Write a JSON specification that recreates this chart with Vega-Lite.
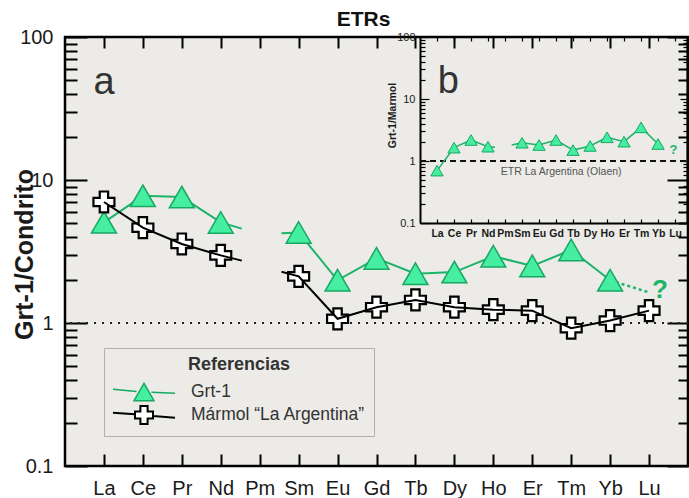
{
"$schema": "https://vega.github.io/schema/vega-lite/v6.json",
"width": 623, "height": 429,
"autosize": {"type": "none"},
"padding": {"left": 65, "top": 37, "right": 1, "bottom": 32},
"background": "#ffffff",
"title": {"text": "ETRs", "font": "Liberation Sans", "fontSize": 21, "fontWeight": "bold", "color": "#111111", "anchor": "middle", "dx": -13, "offset": -3},
"config": {
  "view": {"fill": "#ECEBE7", "stroke": "#000000", "strokeWidth": 2.5},
  "axis": {"grid": false, "domain": false, "tickColor": "#000000", "labelFont": "Liberation Sans", "labelColor": "#1a1a1a", "labelOverlap": false, "labelFlush": false, "titleFont": "Liberation Sans", "titleColor": "#1a1a1a"},
  "text": {"font": "Liberation Sans"}
},
"datasets": {
  "main": [
    {"s": "Grt-1", "i": 1, "v": 5.06, "seg": "g1", "k": "p"},
    {"s": "Grt-1", "i": 2, "v": 7.75, "seg": "g1", "k": "p"},
    {"s": "Grt-1", "i": 3, "v": 7.6, "seg": "g1", "k": "p"},
    {"s": "Grt-1", "i": 4, "v": 5.05, "seg": "g1", "k": "p"},
    {"s": "Grt-1", "i": 4.54, "v": 4.57, "seg": "g1", "k": "e"},
    {"s": "Grt-1", "i": 5.56, "v": 4.24, "seg": "g2", "k": "e"},
    {"s": "Grt-1", "i": 6, "v": 4.3, "seg": "g2", "k": "p"},
    {"s": "Grt-1", "i": 7, "v": 1.99, "seg": "g2", "k": "p"},
    {"s": "Grt-1", "i": 8, "v": 2.83, "seg": "g2", "k": "p"},
    {"s": "Grt-1", "i": 9, "v": 2.21, "seg": "g2", "k": "p"},
    {"s": "Grt-1", "i": 10, "v": 2.27, "seg": "g2", "k": "p"},
    {"s": "Grt-1", "i": 11, "v": 2.93, "seg": "g2", "k": "p"},
    {"s": "Grt-1", "i": 12, "v": 2.51, "seg": "g2", "k": "p"},
    {"s": "Grt-1", "i": 13, "v": 3.24, "seg": "g2", "k": "p"},
    {"s": "Grt-1", "i": 14, "v": 1.99, "seg": "g2", "k": "p"},
    {"s": "Grt-1", "i": 14, "v": 1.99, "seg": "q", "k": "q"},
    {"s": "Grt-1", "i": 15.02, "v": 1.63, "seg": "q", "k": "q"},
    {"s": "Mármol “La Argentina”", "i": 1, "v": 7.02, "seg": "m1", "k": "p"},
    {"s": "Mármol “La Argentina”", "i": 2, "v": 4.64, "seg": "m1", "k": "p"},
    {"s": "Mármol “La Argentina”", "i": 3, "v": 3.57, "seg": "m1", "k": "p"},
    {"s": "Mármol “La Argentina”", "i": 4, "v": 2.97, "seg": "m1", "k": "p"},
    {"s": "Mármol “La Argentina”", "i": 4.54, "v": 2.73, "seg": "m1", "k": "e"},
    {"s": "Mármol “La Argentina”", "i": 5.56, "v": 2.28, "seg": "m2", "k": "e"},
    {"s": "Mármol “La Argentina”", "i": 6, "v": 2.12, "seg": "m2", "k": "p"},
    {"s": "Mármol “La Argentina”", "i": 7, "v": 1.07, "seg": "m2", "k": "p"},
    {"s": "Mármol “La Argentina”", "i": 8, "v": 1.29, "seg": "m2", "k": "p"},
    {"s": "Mármol “La Argentina”", "i": 9, "v": 1.45, "seg": "m2", "k": "p"},
    {"s": "Mármol “La Argentina”", "i": 10, "v": 1.29, "seg": "m2", "k": "p"},
    {"s": "Mármol “La Argentina”", "i": 11, "v": 1.24, "seg": "m2", "k": "p"},
    {"s": "Mármol “La Argentina”", "i": 12, "v": 1.22, "seg": "m2", "k": "p"},
    {"s": "Mármol “La Argentina”", "i": 13, "v": 0.92, "seg": "m2", "k": "p"},
    {"s": "Mármol “La Argentina”", "i": 14, "v": 1.04, "seg": "m2", "k": "p"},
    {"s": "Mármol “La Argentina”", "i": 15, "v": 1.22, "seg": "m2", "k": "p"}
  ],
  "inset": [
    {"i": 1, "v": 0.7, "seg": "a", "k": "p"},
    {"i": 2, "v": 1.64, "seg": "a", "k": "p"},
    {"i": 3, "v": 2.18, "seg": "a", "k": "p"},
    {"i": 4, "v": 1.7, "seg": "a", "k": "p"},
    {"i": 4.41, "v": 1.66, "seg": "a", "k": "e"},
    {"i": 5.39, "v": 1.81, "seg": "b", "k": "e"},
    {"i": 6, "v": 1.97, "seg": "b", "k": "p"},
    {"i": 7, "v": 1.81, "seg": "b", "k": "p"},
    {"i": 8, "v": 2.18, "seg": "b", "k": "p"},
    {"i": 9, "v": 1.5, "seg": "b", "k": "p"},
    {"i": 10, "v": 1.75, "seg": "b", "k": "p"},
    {"i": 11, "v": 2.41, "seg": "b", "k": "p"},
    {"i": 12, "v": 2.05, "seg": "b", "k": "p"},
    {"i": 13, "v": 3.49, "seg": "b", "k": "p"},
    {"i": 14, "v": 1.88, "seg": "b", "k": "p"}
  ]
},
"resolve": {"scale": {"x": "independent", "y": "independent"}, "axis": {"x": "independent", "y": "independent"}},
"layer": [
  {
    "data": {"values": [{"v": 1}]},
    "mark": {"type": "rule", "color": "#222222", "strokeWidth": 2, "strokeDash": [2, 6]},
    "encoding": {
      "y": {"field": "v", "type": "quantitative", "scale": {"type": "log", "domain": [0.1, 100], "nice": false},
            "axis": {"orient": "right", "values": [0.2,0.3,0.4,0.5,0.6,0.7,0.8,0.9,2,3,4,5,6,7,8,9,20,30,40,50,60,70,80,90], "labels": false, "tickSize": -10, "tickWidth": 2, "title": null}}
    }
  },
  {
    "data": {"name": "main"},
    "transform": [{"filter": "datum.s === 'Grt-1' && datum.k !== 'q'"}],
    "mark": {"type": "line", "color": "#1DB36B", "strokeWidth": 2},
    "encoding": {
      "x": {"field": "i", "type": "quantitative", "scale": {"domain": [0, 16], "nice": false, "zero": false},
            "axis": {"orient": "bottom", "values": [1,2,3,4,5,6,7,8,9,10,11,12,13,14,15], "labelExpr": "['','La','Ce','Pr','Nd','Pm','Sm','Eu','Gd','Tb','Dy','Ho','Er','Tm','Yb','Lu'][datum.value]", "tickSize": -12, "tickWidth": 2, "labelFontSize": 20, "labelPadding": 24, "title": null}},
      "y": {"field": "v", "type": "quantitative", "scale": {"type": "log", "domain": [0.1, 100], "nice": false},
            "axis": {"orient": "left", "values": [0.1, 1, 10, 100], "format": "~g", "tickSize": -22, "tickWidth": 2, "labelFontSize": 20, "labelPadding": 34, "title": "Grt-1/Condrito", "titleFontSize": 25, "titleFontWeight": "bold", "titleX": -33, "titleY": 217, "titleBaseline": "alphabetic", "titleAngle": 270}},
      "detail": {"field": "seg"}
    }
  },
  {
    "data": {"name": "main"},
    "transform": [{"filter": "datum.k === 'q'"}],
    "mark": {"type": "line", "color": "#1DB36B", "strokeWidth": 2.5, "strokeDash": [3, 3]},
    "encoding": {
      "x": {"field": "i", "type": "quantitative", "scale": {"domain": [0, 16], "nice": false, "zero": false}, "axis": null},
      "y": {"field": "v", "type": "quantitative", "scale": {"type": "log", "domain": [0.1, 100], "nice": false}, "axis": null}
    }
  },
  {
    "data": {"name": "main"},
    "transform": [{"filter": "datum.k === 'p' && datum.s === 'Grt-1'"}],
    "mark": {"type": "point", "shape": "triangle-up", "filled": true, "fill": "#45EEA0", "stroke": "#17A862", "strokeWidth": 1.5, "size": 620, "opacity": 1},
    "encoding": {
      "x": {"field": "i", "type": "quantitative", "scale": {"domain": [0, 16], "nice": false, "zero": false},
            "axis": {"orient": "top", "values": [1,2,3,4,5,6,7,8,9,10,11,12,13,14,15], "labels": false, "tickSize": -11, "tickWidth": 2, "title": null}},
      "y": {"field": "v", "type": "quantitative", "scale": {"type": "log", "domain": [0.1, 100], "nice": false},
            "axis": {"orient": "right", "values": [0.1, 1, 10, 100], "labels": false, "tickSize": -21, "tickWidth": 2, "title": null}}
    }
  },
  {
    "data": {"name": "main"},
    "transform": [{"filter": "datum.k === 'p' && datum.s !== 'Grt-1'"}],
    "mark": {"type": "point", "shape": "cross", "filled": true, "fill": "#ffffff", "stroke": "#000000", "strokeWidth": 2.2, "size": 440, "opacity": 1},
    "encoding": {
      "x": {"field": "i", "type": "quantitative", "scale": {"domain": [0, 16], "nice": false, "zero": false}, "axis": null},
      "y": {"field": "v", "type": "quantitative", "scale": {"type": "log", "domain": [0.1, 100], "nice": false}, "axis": null}
    }
  },
  {
    "data": {"name": "main"},
    "transform": [{"filter": "datum.k === 'none'"}],
    "mark": {"type": "point", "filled": true, "opacity": 1},
    "encoding": {
      "x": {"field": "i", "type": "quantitative", "scale": {"domain": [0, 16], "nice": false, "zero": false}, "axis": null},
      "y": {"field": "v", "type": "quantitative", "scale": {"type": "log", "domain": [0.1, 100], "nice": false}, "axis": null},
      "shape": {"field": "s", "type": "nominal",
                "scale": {"domain": ["Grt-1", "Mármol “La Argentina”"], "range": ["M-3.1,-0.27L-0.75,-0.05M0.75,0.03L3.1,0.13M0,-0.866L-1,0.866L1,0.866Z", "M-3.1,-0.23L-0.9,-0.07M0.9,0.1L3.1,0.27M-0.9,-0.36L-0.9,0.36L-0.36,0.36L-0.36,0.9L0.36,0.9L0.36,0.36L0.9,0.36L0.9,-0.36L0.36,-0.36L0.36,-0.9L-0.36,-0.9L-0.36,-0.36Z"]},
                "legend": {"title": "Referencias", "orient": "none", "legendX": 39, "legendY": 311,
                           "titleFont": "Liberation Sans", "titleFontSize": 18, "titleFontWeight": "bold", "titleColor": "#333333", "titleAnchor": "middle", "titlePadding": 7,
                           "labelFont": "Liberation Sans", "labelFontSize": 17.5, "labelColor": "#333333", "labelLimit": 400,
                           "symbolSize": 400, "symbolOffset": 21, "labelOffset": 36, "rowPadding": -3, "padding": 8,
                           "strokeColor": "#b0b0b0", "fillColor": "#ECEBE7", "symbolOpacity": 1}},
      "fill": {"field": "s", "type": "nominal", "scale": {"domain": ["Grt-1", "Mármol “La Argentina”"], "range": ["#45EEA0", "#ffffff"]}},
      "stroke": {"field": "s", "type": "nominal", "scale": {"domain": ["Grt-1", "Mármol “La Argentina”"], "range": ["#17A862", "#000000"]}},
      "strokeWidth": {"field": "s", "type": "nominal", "scale": {"domain": ["Grt-1", "Mármol “La Argentina”"], "range": [1.5, 2]}}
    }
  },
  {
    "data": {"name": "main"},
    "transform": [{"filter": "datum.s !== 'Grt-1'"}],
    "mark": {"type": "line", "color": "#000000", "strokeWidth": 2},
    "encoding": {
      "x": {"field": "i", "type": "quantitative", "scale": {"domain": [0, 16], "nice": false, "zero": false}, "axis": null},
      "y": {"field": "v", "type": "quantitative", "scale": {"type": "log", "domain": [0.1, 100], "nice": false},
            "axis": {"orient": "left", "values": [0.2,0.3,0.4,0.5,0.6,0.7,0.8,0.9,2,3,4,5,6,7,8,9,20,30,40,50,60,70,80,90], "labels": false, "tickSize": -12, "tickWidth": 2, "title": null}},
      "detail": {"field": "seg"}
    }
  },
  {
    "data": {"values": [{"i": 15.28, "v": 1.71, "t": "?"}]},
    "mark": {"type": "text", "fontSize": 26, "fontWeight": "bold", "color": "#1DB36B", "align": "center", "baseline": "middle"},
    "encoding": {
      "x": {"field": "i", "type": "quantitative", "scale": {"domain": [0, 16], "nice": false, "zero": false}, "axis": null},
      "y": {"field": "v", "type": "quantitative", "scale": {"type": "log", "domain": [0.1, 100], "nice": false}, "axis": null},
      "text": {"field": "t"}
    }
  },
  {
    "data": {"values": [{"i": 0.73, "v": 40, "t": "a"}]},
    "mark": {"type": "text", "fontSize": 38, "color": "#333333", "align": "left", "baseline": "alphabetic"},
    "encoding": {
      "x": {"field": "i", "type": "quantitative", "scale": {"domain": [0, 16], "nice": false, "zero": false}, "axis": null},
      "y": {"field": "v", "type": "quantitative", "scale": {"type": "log", "domain": [0.1, 100], "nice": false}, "axis": null},
      "text": {"field": "t"}
    }
  },
  {
    "data": {"values": [{"a": 0, "b": 15.7, "v": 1}]},
    "mark": {"type": "rule", "color": "#111111", "strokeWidth": 2, "strokeDash": [6, 4]},
    "encoding": {
      "x": {"field": "a", "type": "quantitative", "scale": {"domain": [0, 15.7], "range": [355, 622], "nice": false, "zero": false}, "axis": null},
      "x2": {"field": "b"},
      "y": {"field": "v", "type": "quantitative", "scale": {"type": "log", "domain": [0.1, 100], "range": [186, 0], "nice": false},
            "axis": {"orient": "right", "offset": -1, "values": [0.1, 1, 10, 100], "labels": false, "domain": true, "domainColor": "#000000", "domainWidth": 2, "tickSize": -7, "tickWidth": 1.2, "title": null}}
    }
  },
  {
    "data": {"name": "inset"},
    "mark": {"type": "line", "color": "#1DB36B", "strokeWidth": 1.5},
    "encoding": {
      "x": {"field": "i", "type": "quantitative", "scale": {"domain": [0, 15.7], "range": [355, 622], "nice": false, "zero": false},
            "axis": {"orient": "bottom", "offset": -243, "values": [1,2,3,4,5,6,7,8,9,10,11,12,13,14,15], "labelExpr": "['','La','Ce','Pr','Nd','Pm','Sm','Eu','Gd','Tb','Dy','Ho','Er','Tm','Yb','Lu'][datum.value]", "domain": true, "domainColor": "#000000", "domainWidth": 2, "tickSize": -4, "tickWidth": 1.2, "labelFontSize": 10.5, "labelFontWeight": "bold", "labelPadding": 9, "title": null}},
      "y": {"field": "v", "type": "quantitative", "scale": {"type": "log", "domain": [0.1, 100], "range": [186, 0], "nice": false},
            "axis": {"orient": "left", "offset": -355, "values": [0.1, 1, 10, 100], "format": "~g", "domain": true, "domainColor": "#000000", "domainWidth": 2, "tickSize": -9, "tickWidth": 1.2, "labelFontSize": 11, "labelPadding": 14, "title": "Grt-1/Marmol", "titleFontSize": 10.5, "titleFontWeight": "bold", "titleX": -25, "titleY": 78, "titleBaseline": "alphabetic", "titleAngle": 270}},
      "detail": {"field": "seg"}
    }
  },
  {
    "data": {"name": "inset"},
    "transform": [{"filter": "datum.k === 'p'"}],
    "mark": {"type": "point", "shape": "triangle-up", "size": 150, "filled": true, "fill": "#45EEA0", "stroke": "#17A862", "strokeWidth": 1, "opacity": 1},
    "encoding": {
      "x": {"field": "i", "type": "quantitative", "scale": {"domain": [0, 15.7], "range": [355, 622], "nice": false, "zero": false},
            "axis": {"orient": "top", "values": [1,2,3,4,5,6,7,8,9,10,11,12,13,14,15], "labels": false, "tickSize": -4, "tickWidth": 1.2, "title": null}},
      "y": {"field": "v", "type": "quantitative", "scale": {"type": "log", "domain": [0.1, 100], "range": [186, 0], "nice": false},
            "axis": {"orient": "left", "offset": -355, "values": [0.2,0.3,0.4,0.5,0.6,0.7,0.8,0.9,2,3,4,5,6,7,8,9,20,30,40,50,60,70,80,90], "labels": false, "tickSize": -5, "tickWidth": 1.2, "title": null}}
    }
  },
  {
    "data": {"values": [{"i": 14.9, "v": 1.5, "t": "?"}]},
    "mark": {"type": "text", "fontSize": 13, "fontWeight": "bold", "color": "#1DB36B", "align": "center", "baseline": "middle"},
    "encoding": {
      "x": {"field": "i", "type": "quantitative", "scale": {"domain": [0, 15.7], "range": [355, 622], "nice": false, "zero": false}, "axis": null},
      "y": {"field": "v", "type": "quantitative", "scale": {"type": "log", "domain": [0.1, 100], "range": [186, 0], "nice": false},
            "axis": {"orient": "right", "offset": -1, "values": [0.2,0.3,0.4,0.5,0.6,0.7,0.8,0.9,2,3,4,5,6,7,8,9,20,30,40,50,60,70,80,90], "labels": false, "tickSize": -4, "tickWidth": 1.2, "title": null}},
      "text": {"field": "t"}
    }
  },
  {
    "data": {"values": [{"i": 1.05, "v": 12.5, "t": "b"}]},
    "mark": {"type": "text", "fontSize": 38, "color": "#333333", "align": "left", "baseline": "alphabetic"},
    "encoding": {
      "x": {"field": "i", "type": "quantitative", "scale": {"domain": [0, 15.7], "range": [355, 622], "nice": false, "zero": false}, "axis": null},
      "y": {"field": "v", "type": "quantitative", "scale": {"type": "log", "domain": [0.1, 100], "range": [186, 0], "nice": false}, "axis": null},
      "text": {"field": "t"}
    }
  },
  {
    "data": {"values": [{"i": 8.3, "v": 0.67, "t": "ETR La Argentina (Olaen)"}]},
    "mark": {"type": "text", "fontSize": 10.5, "color": "#555555", "align": "center", "baseline": "middle"},
    "encoding": {
      "x": {"field": "i", "type": "quantitative", "scale": {"domain": [0, 15.7], "range": [355, 622], "nice": false, "zero": false}, "axis": null},
      "y": {"field": "v", "type": "quantitative", "scale": {"type": "log", "domain": [0.1, 100], "range": [186, 0], "nice": false}, "axis": null},
      "text": {"field": "t"}
    }
  }
]
}
